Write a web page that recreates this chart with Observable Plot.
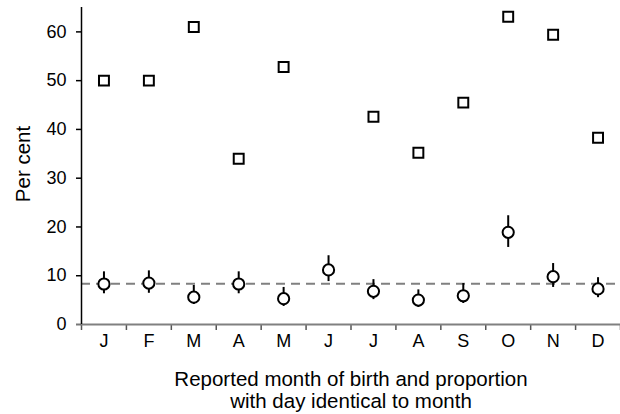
<!DOCTYPE html>
<html>
<head>
<meta charset="utf-8">
<script src="https://cdn.jsdelivr.net/npm/d3@7"></script>
<script src="https://cdn.jsdelivr.net/npm/@observablehq/plot@0.6"></script>
<style>
  html, body { margin: 0; padding: 0; background: #fff; }
  svg { display: block; }
</style>
</head>
<body>
<div id="chart"></div>
<script>
const months = ["J","F","M","A","M","J","J","A","S","O","N","D"];
const squareValues = [50, 50, 61, 34, 52.8, null, 42.6, 35.2, 45.5, 63.1, 59.4, 38.3];
const circleValues = [8.3, 8.5, 5.6, 8.3, 5.3, 11.2, 6.8, 5.0, 5.9, 18.9, 9.8, 7.3];
const circleLow  = [6.3, 6.4, 4.1, 6.3, 3.7, 8.8, 5.1, 3.5, 4.3, 15.8, 7.6, 5.5];
const circleHigh = [10.8, 11.0, 8.0, 10.8, 7.6, 14.1, 9.2, 7.1, 8.4, 22.3, 12.5, 9.6];
const referenceLine = 8.35;
const yTicks = [0, 10, 20, 30, 40, 50, 60];
const yLabel = "Per cent";
const xLabel = "Reported month of birth and proportion\nwith day identical to month";

const rows = months.map((m, i) => ({
  i, pos: i + 0.5, m,
  sq: squareValues[i], c: circleValues[i], lo: circleLow[i], hi: circleHigh[i]
}));
const squares = rows.filter(d => d.sq != null);

const font = "'Liberation Sans', Arial, sans-serif";

const plot = Plot.plot({
  width: 620,
  height: 414,
  marginLeft: 81,
  marginRight: 0,
  marginTop: 7,
  marginBottom: 90,
  style: { fontFamily: font, fontSize: "18px", color: "#000", background: "#fff" },
  x: { type: "linear", domain: [0, 12], axis: null },
  y: { domain: [0, 65], axis: null },
  marks: [
    Plot.ruleY([referenceLine], { stroke: "#808080", strokeWidth: 2, strokeDasharray: "9,6" }),
    Plot.axisY({ ticks: yTicks.filter(t => t > 0), tickSize: 5, tickPadding: 10, label: null, fontSize: 18, stroke: "#000", strokeWidth: 1.5 }),
    Plot.axisY({ ticks: [0], tickSize: 5, tickPadding: 10, label: null, fontSize: 18, stroke: "#777", strokeWidth: 2 }),
    Plot.axisX({ ticks: d3.range(0, 13), tickSize: 6, tickFormat: () => "", label: null, stroke: "#555", strokeWidth: 1.5 }),
    Plot.axisX({ ticks: d3.range(0.5, 12, 1), tickSize: 0, tickPadding: 10, tickFormat: d => months[Math.floor(d)], label: null, fontSize: 18 }),
    Plot.ruleY([0], { stroke: "#808080", strokeWidth: 2 }),
    Plot.ruleX([0], { stroke: "#000", strokeWidth: 1.5 }),
    Plot.ruleX(rows, { x: "pos", y1: "lo", y2: "hi", stroke: "#000", strokeWidth: 2 }),
    Plot.dot(rows, { x: "pos", y: "c", r: 5.6, fill: "#fff", stroke: "#000", strokeWidth: 2 }),
    Plot.dot(squares, { x: "pos", y: "sq", symbol: "square", r: 5.6, fill: "#fff", stroke: "#000", strokeWidth: 2 }),
    Plot.text([yLabel], { frameAnchor: "left", textAnchor: "middle", dx: -58, dy: -2, rotate: -90, fontSize: 20.5, fill: "#000" }),
    Plot.text([xLabel], { frameAnchor: "bottom", dy: 46, lineAnchor: "top", fontSize: 20.5, lineHeight: 1.07, fill: "#000" })
  ]
});
document.getElementById("chart").appendChild(plot);
</script>
</body>
</html>
